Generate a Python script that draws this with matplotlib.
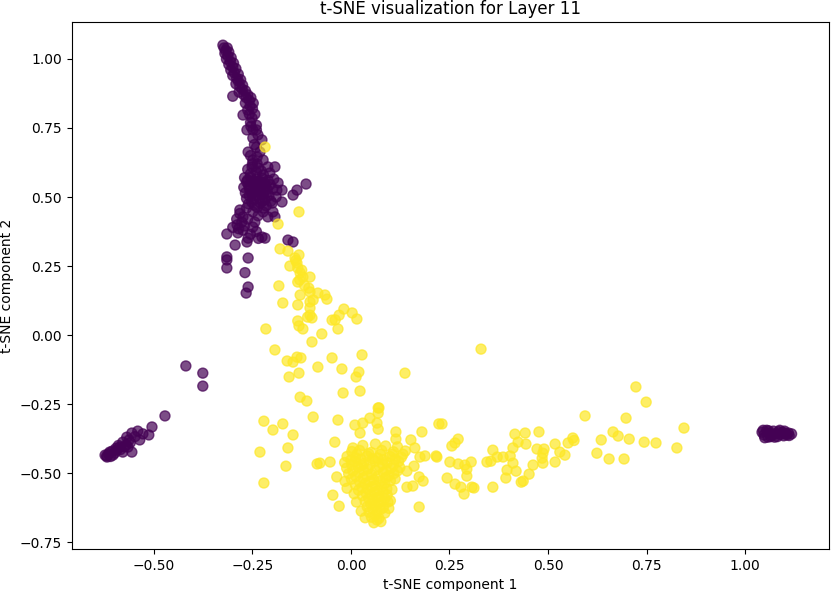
import numpy as np
import matplotlib
matplotlib.use('Agg')
from matplotlib import pyplot as plt

#================================ t-SNE points =========================================================
# label 0 (dark purple)
PURPLE_LEFT = [(-0.419, -0.112), (-0.376, -0.138), (-0.376, -0.185), (-0.472, -0.293), (-0.505, -0.333),
               (-0.513, -0.362), (-0.541, -0.348), (-0.556, -0.355), (-0.536, -0.380), (-0.569, -0.370),
               (-0.579, -0.388), (-0.566, -0.406), (-0.587, -0.406), (-0.594, -0.417), (-0.612, -0.424),
               (-0.624, -0.435), (-0.619, -0.442), (-0.604, -0.435), (-0.579, -0.424), (-0.556, -0.424),
               (-0.600, -0.428), (-0.590, -0.400), (-0.548, -0.368), (-0.560, -0.390), (-0.615, -0.430),
               (-0.605, -0.420), (-0.585, -0.415), (-0.570, -0.398), (-0.528, -0.358), (-0.620, -0.438),
               (-0.596, -0.410), (-0.575, -0.405), (-0.610, -0.440), (-0.563, -0.380)]

PURPLE_RIGHT = [(1.043, -0.352), (1.048, -0.362), (1.055, -0.345), (1.058, -0.370), (1.062, -0.355),
                (1.068, -0.362), (1.072, -0.348), (1.078, -0.358), (1.082, -0.368), (1.085, -0.350),
                (1.090, -0.360), (1.095, -0.352), (1.098, -0.365), (1.102, -0.356), (1.106, -0.362),
                (1.110, -0.355), (1.050, -0.372), (1.065, -0.368), (1.088, -0.345), (1.100, -0.348),
                (1.112, -0.364), (1.075, -0.370), (1.046, -0.345), (1.060, -0.347), (1.118, -0.358)]

PURPLE_STEM = [(-0.325, 1.050), (-0.322, 1.040), (-0.318, 1.030), (-0.320, 1.020), (-0.312, 1.010),
               (-0.316, 1.000), (-0.306, 0.990), (-0.310, 0.980), (-0.300, 0.970), (-0.305, 0.960),
               (-0.296, 0.950), (-0.300, 0.940), (-0.290, 0.930), (-0.286, 0.920), (-0.292, 0.910),
               (-0.282, 0.900), (-0.276, 0.890), (-0.284, 0.880), (-0.272, 0.870), (-0.266, 0.860),
               (-0.300, 0.865), (-0.258, 0.850), (-0.268, 0.840), (-0.256, 0.830), (-0.250, 0.820),
               (-0.262, 0.815), (-0.274, 0.797), (-0.251, 0.786), (-0.249, 0.743), (-0.264, 0.743),
               (-0.240, 0.743), (-0.226, 0.707), (-0.249, 0.714), (-0.261, 0.663), (-0.231, 0.663),
               (-0.249, 0.634), (-0.223, 0.634), (-0.251, 0.609), (-0.193, 0.609), (-0.211, 0.609),
               (-0.206, 0.587), (-0.240, 0.760), (-0.255, 0.770), (-0.245, 0.690), (-0.255, 0.650),
               (-0.238, 0.620),
               # second strand, the stem is about two markers wide
               (-0.314, 1.040), (-0.310, 1.025), (-0.304, 1.005), (-0.298, 0.985), (-0.292, 0.965),
               (-0.286, 0.945), (-0.280, 0.925), (-0.275, 0.905), (-0.268, 0.885), (-0.262, 0.870),
               (-0.254, 0.860), (-0.248, 0.840), (-0.258, 0.800), (-0.244, 0.800), (-0.254, 0.756),
               (-0.236, 0.725), (-0.240, 0.680), (-0.238, 0.645)]

PURPLE_BLOB = [(-0.270, 0.570), (-0.255, 0.572), (-0.240, 0.565), (-0.225, 0.568), (-0.210, 0.560),
               (-0.265, 0.555), (-0.250, 0.550), (-0.235, 0.548), (-0.220, 0.552), (-0.205, 0.545),
               (-0.272, 0.535), (-0.258, 0.530), (-0.243, 0.538), (-0.228, 0.532), (-0.213, 0.528),
               (-0.268, 0.515), (-0.252, 0.512), (-0.238, 0.518), (-0.222, 0.510), (-0.208, 0.505),
               (-0.265, 0.495), (-0.248, 0.492), (-0.232, 0.498), (-0.218, 0.490), (-0.203, 0.485),
               (-0.260, 0.475), (-0.245, 0.470), (-0.230, 0.478), (-0.215, 0.468), (-0.255, 0.585),
               (-0.240, 0.590), (-0.228, 0.595), (-0.262, 0.600), (-0.185, 0.551), (-0.188, 0.525),
               (-0.175, 0.525), (-0.137, 0.525), (-0.147, 0.507), (-0.114, 0.547), (-0.175, 0.482),
               (-0.200, 0.478), (-0.190, 0.500),
               (-0.262, 0.562), (-0.247, 0.558), (-0.232, 0.557), (-0.217, 0.540), (-0.260, 0.542),
               (-0.245, 0.525), (-0.230, 0.522), (-0.215, 0.515), (-0.258, 0.505), (-0.240, 0.505),
               (-0.225, 0.485), (-0.252, 0.482), (-0.238, 0.462), (-0.222, 0.460), (-0.250, 0.620),
               (-0.235, 0.605), (-0.222, 0.580), (-0.198, 0.530), (-0.196, 0.565)]

PURPLE_LOW = [(-0.282, 0.453), (-0.274, 0.428), (-0.249, 0.446), (-0.223, 0.446), (-0.198, 0.446),
              (-0.211, 0.428), (-0.193, 0.428), (-0.277, 0.409), (-0.244, 0.409), (-0.289, 0.399),
              (-0.274, 0.380), (-0.249, 0.391), (-0.315, 0.366), (-0.287, 0.370), (-0.261, 0.351),
              (-0.264, 0.337), (-0.226, 0.355), (-0.218, 0.351), (-0.294, 0.326), (-0.160, 0.344),
              (-0.147, 0.337), (-0.315, 0.283), (-0.315, 0.272), (-0.261, 0.279), (-0.315, 0.243),
              (-0.269, 0.226), (-0.261, 0.174), (-0.266, 0.152), (-0.282, 0.440), (-0.265, 0.460),
              (-0.290, 0.420), (-0.300, 0.390), (-0.270, 0.395), (-0.255, 0.365), (-0.240, 0.375),
              (-0.235, 0.350), (-0.285, 0.385), (-0.262, 0.420), (-0.236, 0.432)]

# label 1 (yellow)
YELLOW_ARM = [(-0.218, 0.681), (-0.132, 0.446), (-0.185, 0.402), (-0.180, 0.312), (-0.160, 0.304),
              (-0.132, 0.290), (-0.142, 0.279), (-0.137, 0.261), (-0.155, 0.250), (-0.135, 0.243),
              (-0.129, 0.225), (-0.122, 0.210), (-0.104, 0.210), (-0.135, 0.192), (-0.107, 0.170),
              (-0.104, 0.156), (-0.183, 0.178), (-0.129, 0.145), (-0.084, 0.152), (-0.066, 0.145),
              (-0.061, 0.130), (-0.096, 0.127), (-0.104, 0.120), (-0.173, 0.116), (-0.135, 0.109),
              (-0.104, 0.098), (-0.104, 0.072), (-0.099, 0.062), (-0.110, 0.065), (-0.018, 0.094),
              (-0.030, 0.072), (0.003, 0.080), (0.015, 0.058), (-0.048, 0.054), (-0.040, 0.055),
              (-0.135, 0.051), (-0.132, 0.033), (-0.122, 0.022), (-0.216, 0.022), (-0.033, 0.022),
              (-0.074, 0.004), (-0.099, -0.025), (-0.193, -0.054), (-0.162, -0.094), (-0.147, -0.098),
              (-0.137, -0.080), (-0.127, -0.083), (-0.048, -0.083), (0.028, -0.072), (-0.084, -0.116),
              (-0.023, -0.123), (0.020, -0.134), (0.013, -0.152), (-0.132, -0.138), (-0.157, -0.152),
              (0.137, -0.138), (0.330, -0.051), (-0.020, -0.210), (0.023, -0.203), (-0.129, -0.225),
              (-0.112, -0.239), (0.071, -0.264), (-0.140, 0.270), (-0.125, 0.235), (-0.130, 0.200),
              (-0.118, 0.180)]

YELLOW_MID = [(-0.221, -0.312), (-0.198, -0.344), (-0.173, -0.322), (-0.147, -0.362), (-0.096, -0.297),
              (-0.033, -0.308), (-0.231, -0.424), (-0.160, -0.409), (-0.165, -0.475), (-0.221, -0.536),
              (-0.086, -0.467), (-0.053, -0.460), (-0.041, -0.388), (-0.036, -0.514), (-0.046, -0.580),
              (-0.030, -0.620), (0.005, -0.409), (0.010, -0.326), (0.030, -0.319), (0.023, -0.355),
              (0.048, -0.301), (0.069, -0.264), (0.069, -0.283), (0.066, -0.319), (0.069, -0.341),
              (0.114, -0.351), (0.114, -0.377), (0.180, -0.351), (0.152, -0.380), (0.162, -0.409),
              (0.218, -0.442), (0.188, -0.438), (0.160, -0.475), (0.142, -0.493), (0.173, -0.514),
              (0.183, -0.529), (0.142, -0.551), (0.157, -0.547), (0.173, -0.623), (0.094, -0.605),
              (0.223, -0.322), (0.175, -0.442), (-0.079, -0.464)]

YELLOW_BLOB = [(0.030, -0.400), (0.062, -0.395), (0.088, -0.402), (0.118, -0.405),
               (0.002, -0.422), (0.022, -0.418), (0.051, -0.425), (0.078, -0.418), (0.108, -0.423), (0.138, -0.420),
               (-0.010, -0.440), (0.012, -0.445), (0.041, -0.438), (0.068, -0.446), (0.099, -0.440), (0.128, -0.443),
               (-0.016, -0.462), (0.010, -0.458), (0.032, -0.465), (0.061, -0.457), (0.092, -0.463), (0.121, -0.458),
               (-0.011, -0.482), (0.018, -0.478), (0.043, -0.485), (0.072, -0.477), (0.101, -0.483), (0.124, -0.480),
               (-0.006, -0.502), (0.021, -0.498), (0.052, -0.505), (0.082, -0.497), (0.109, -0.502),
               (0.001, -0.522), (0.031, -0.518), (0.058, -0.525), (0.088, -0.517), (0.112, -0.521),
               (0.011, -0.542), (0.036, -0.538), (0.061, -0.545), (0.086, -0.537),
               (0.019, -0.562), (0.042, -0.558), (0.066, -0.565), (0.091, -0.557),
               (0.029, -0.582), (0.051, -0.578), (0.071, -0.585), (0.092, -0.579),
               (0.036, -0.602), (0.056, -0.598), (0.076, -0.605),
               (0.041, -0.622), (0.061, -0.618), (0.082, -0.625),
               (0.046, -0.642), (0.066, -0.638), (0.086, -0.645),
               (0.052, -0.660), (0.071, -0.664), (0.058, -0.680), (0.076, -0.676),
               # in-between points, the blob is solid in the reference
               (0.015, -0.432), (0.045, -0.430), (0.075, -0.432), (0.105, -0.432), (0.132, -0.432),
               (0.000, -0.452), (0.025, -0.450), (0.055, -0.448), (0.082, -0.452), (0.112, -0.450),
               (0.002, -0.470), (0.028, -0.472), (0.048, -0.470), (0.080, -0.468), (0.108, -0.470),
               (0.005, -0.492), (0.032, -0.490), (0.062, -0.490), (0.090, -0.490), (0.118, -0.492),
               (0.012, -0.512), (0.040, -0.510), (0.068, -0.512), (0.096, -0.510),
               (0.022, -0.532), (0.048, -0.530), (0.074, -0.530), (0.100, -0.528),
               (0.028, -0.552), (0.052, -0.550), (0.078, -0.550),
               (0.038, -0.572), (0.060, -0.570), (0.082, -0.570),
               (0.045, -0.592), (0.066, -0.590), (0.086, -0.592),
               (0.050, -0.612), (0.070, -0.610), (0.055, -0.630), (0.075, -0.632),
               (0.062, -0.652), (0.066, -0.670),
               # lower half of the blob is wider than a V
               (-0.015, -0.530), (-0.010, -0.555), (0.008, -0.575), (0.014, -0.605), (0.026, -0.638),
               (0.100, -0.600), (0.096, -0.628), (0.104, -0.560), (0.036, -0.662)]

YELLOW_RIGHT = [(0.231, -0.322), (0.216, -0.438), (0.256, -0.402), (0.272, -0.377), (0.264, -0.391),
                (0.251, -0.460), (0.272, -0.467), (0.289, -0.471), (0.305, -0.460), (0.294, -0.486),
                (0.294, -0.511), (0.244, -0.518), (0.264, -0.540), (0.279, -0.551), (0.287, -0.576),
                (0.307, -0.551), (0.312, -0.554), (0.360, -0.551), (0.360, -0.417), (0.345, -0.460),
                (0.355, -0.457), (0.371, -0.442), (0.386, -0.442), (0.404, -0.438), (0.411, -0.409),
                (0.411, -0.464), (0.396, -0.489), (0.393, -0.518), (0.419, -0.493), (0.416, -0.359),
                (0.442, -0.355), (0.424, -0.388), (0.444, -0.395), (0.462, -0.471), (0.452, -0.504),
                (0.437, -0.529), (0.432, -0.533), (0.477, -0.351), (0.472, -0.413), (0.490, -0.413),
                (0.487, -0.428), (0.485, -0.446), (0.487, -0.464), (0.518, -0.395), (0.530, -0.424),
                (0.543, -0.435), (0.518, -0.460), (0.551, -0.391), (0.563, -0.373), (0.566, -0.382),
                (0.594, -0.293), (0.635, -0.380), (0.624, -0.428), (0.655, -0.449), (0.665, -0.351),
                (0.678, -0.366), (0.698, -0.301), (0.706, -0.377), (0.693, -0.449), (0.723, -0.188),
                (0.749, -0.243), (0.744, -0.388), (0.774, -0.391), (0.827, -0.409), (0.845, -0.337)]

#================================ build arrays and labels ==============================================
purple = PURPLE_LEFT + PURPLE_RIGHT + PURPLE_STEM + PURPLE_BLOB + PURPLE_LOW
yellow = YELLOW_ARM + YELLOW_MID + YELLOW_BLOB + YELLOW_RIGHT
points = np.array(purple + yellow)
labels = np.array([0] * len(purple) + [1] * len(yellow))

#================================ draw ==============================================================
fig = plt.figure(figsize=(8.31, 5.91), dpi=100)
ax = fig.add_axes([0.0866, 0.0711, 0.911, 0.8917])
ax.scatter(points[:, 0], points[:, 1], c=labels, cmap='viridis', alpha=0.7, s=52)
ax.set_xlim(-0.708, 1.213)
ax.set_ylim(-0.775, 1.134)
ax.set_title('t-SNE visualization for Layer 11')
ax.set_xlabel('t-SNE component 1')
ax.set_ylabel('t-SNE component 2')

fig.savefig('out.png', dpi=100)
